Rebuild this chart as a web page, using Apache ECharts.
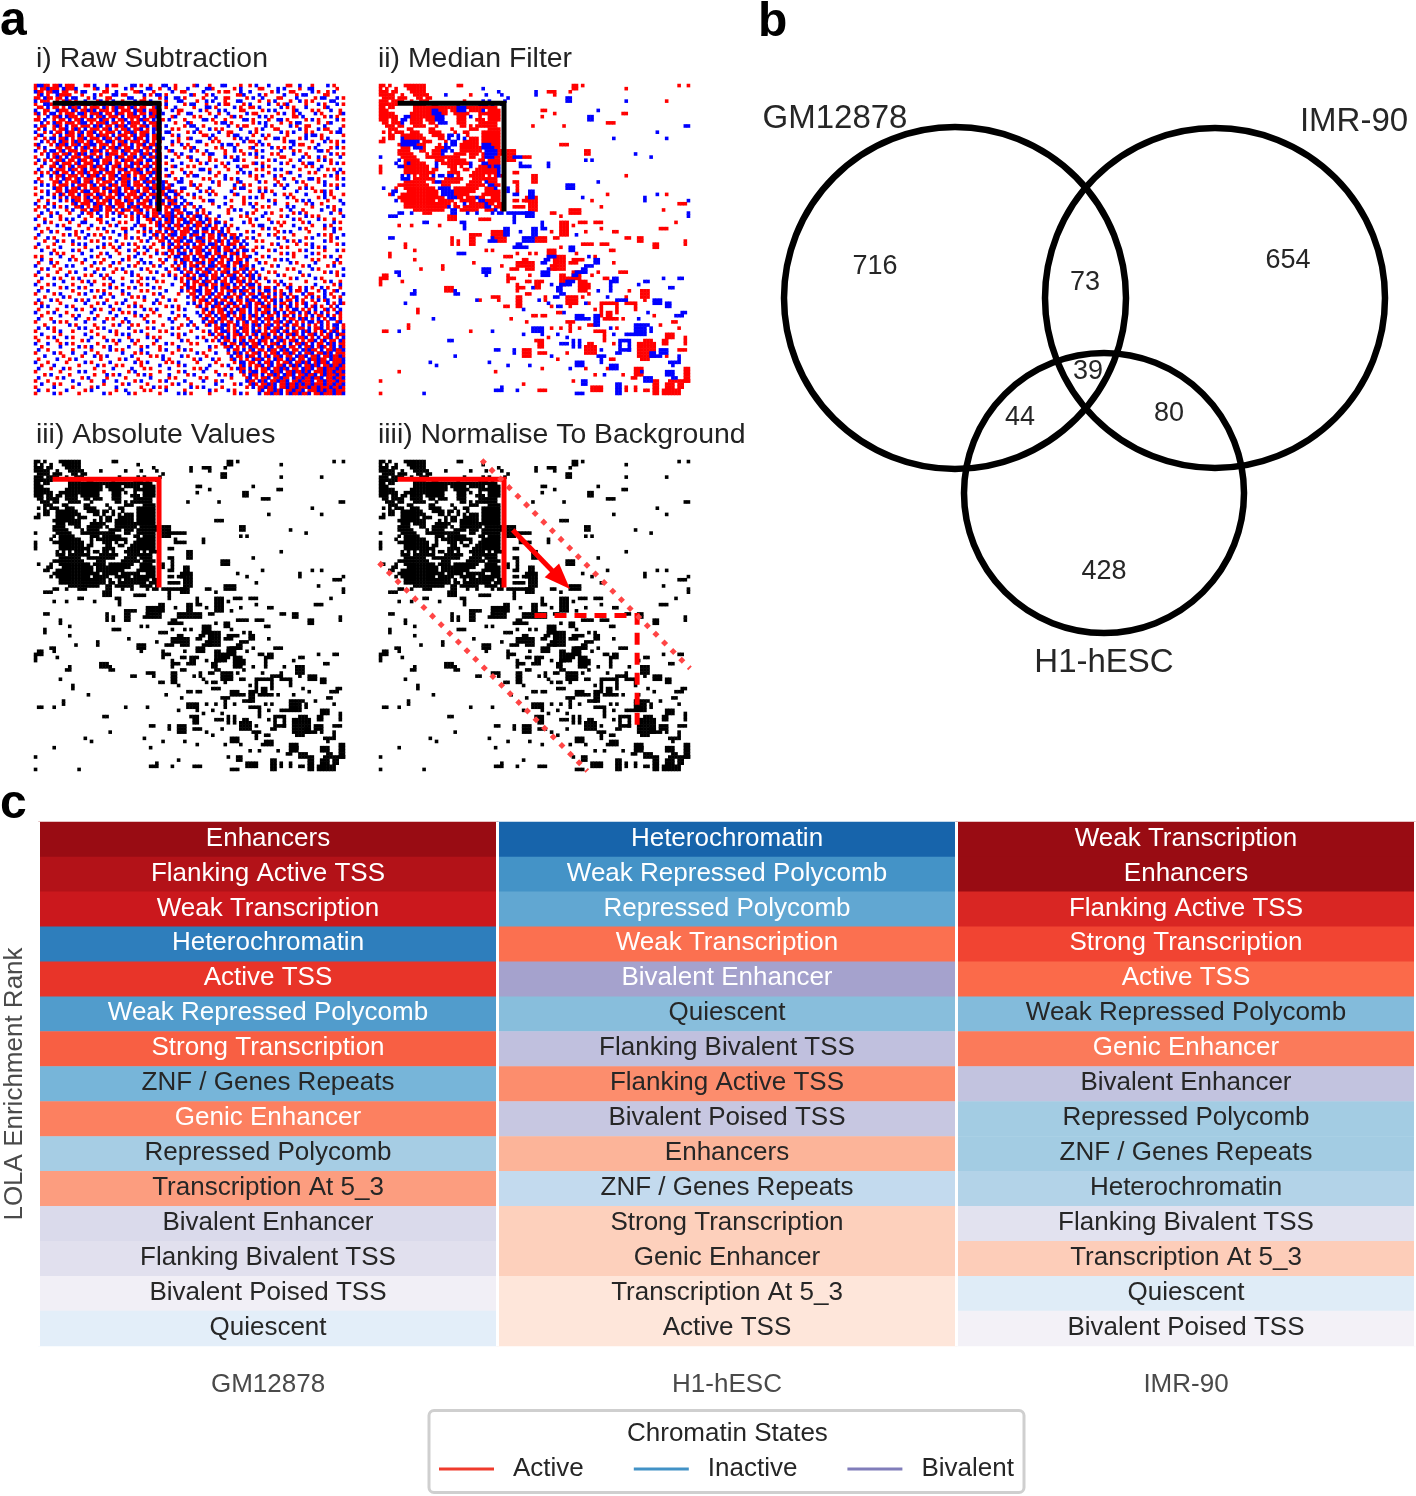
<!DOCTYPE html>
<html>
<head>
<meta charset="utf-8">
<style>html,body{margin:0;padding:0;background:#fff}#c{width:1416px;height:1496px}</style>
<script src="https://cdn.jsdelivr.net/npm/echarts@6/dist/echarts.min.js"></script>
</head>
<body>
<div id="c"></div>
<script>
// Contact-map cells, estimated by eye: r = positive, b = negative, . = empty
const rawRows = [
"rbbrr.rrb.rrr...rr.b...b.rr....bb.r..r...bb..r.....rb...r...bb....r..r.b...b.....rr..b...r....b.r...r",
"r.rrbrrr.brrrb.....rb..r.....b.r....bb..r..b.r...b.....bbr......r.b.....rr....b.b....r..bb.......r..",
"brr.rrbb.rr..r.bb.....rr..b.....rrb...r.....b..rr.....b....r.rr...b..b......r.b...rr.....b.r..r.b...",
".rb.r..brrrr...r...b.r...bb.rr.....b.r.bb.r.......br...r.b.......rrb....b.r.....b...r.bb.....rr.....",
"rr.brr.rr.b.bb...r.b...rr.....bb...r....r.b..bb.r.....r...b..rr.....r.b..b....rr....b.....r.bb...b.r",
"b.rrr..r.rbr.r..b...rb.r.b..r...b.rr.b....r...bb....r..b.b...r...bb.....r..r.b....r..b.r.r.....bb...",
"r..bbr...brrb..rrb.r.rr.rb..brr.bb.rrb..r.b.....r.bb...r...b.rr....r.b.....b..r.rb.....r...b.r...b.r",
".rr.b.rr.r.brrb.r.rrr.br.rbrr.rbr.rr..rb..r..b.....r...bb.r.....b.r..rr.b......b.r.r...b.....rb.....",
"b..rr..brrr.br.rrbrb.rrr.rb.rrr.brrb.rrrb...b.rr.....b.r...b.b....rr.....r.b.b.....rb....r.r...b..r.",
"rb.r.bb.r.rrr.bbr.rrrb.rr.brr.rrb.rr.brr.b....r..bb.....r..r..b.....b.rr......r.b..r.b....b.r.....rb",
".r..b.rrb.brrr.rr.b.rrb.rrr.b.rrrr.b.rrb....rb.....r.r....b....rb.r.....b.b.r......rr.b......r.b.r..",
"rr.b..r.rr.b.rrb.rrr.brr.b.rrb.r.rbrr.b.rr.b....r.....bb.r...r.....bb.r....r..bb.r.....r.b.r.....b.r",
"..b.r.brr.rrr.rbb.r.rrrb.rr.r.brrr.b.rrrb....r...br.......r.bb.r......r.b.b....r..r.bb.....r..rb....",
"b.rr..rbr.b.rr.rrr.brb.rr.brrb.rr.rrb.rrr.b.....r.bb..r.......b..r.rr.....b.r.....b.r..rr....b.....r",
".r.b..r.rrb.rbr.b.rrr.rrb.r.rrb.rrb.r.brb...r.r.....b...b.r.r.....b....r.b...rr......b.r...b.rr...b.",
"b..r.b.rr.brr.rb.rrb.r.rrr.b.rrbr.rrr.b.r.bb.....r.b.r.....b..rr.....b.r.......b.r.b...r.r.....r.bb.",
".rb...r.b.rrr.br.rr.brrr.b.rrr.rb.rrb.rrb...r.b.......rr.b....r.bb....r..b.r.....r.....b.bb.r......r",
"r..r.bb.rrb.r.rrb.rrr.brr.rb.rr.brr.b.rr.b....r..rb.....b.r.....r.b.b.....r..bb.r....r.b....r.b.....",
"..b.r.r.brr.rbrr.rb.rr.bbr.rrb.rrr.rb.r.r...b.r.....bb...r.r.......b.rr.b.......r.bb.....r...b.r.r.b",
"rb...r.brrb.rrb.rrbb.rrr.r.brr.b.rrb.rrb....r..b.r.....r....b.bb.r.....r.b.r.......b.rr....b.....r..",
".r.b...rr.rr.b.rbr.r.rb.rrbr.rrb.r.rrb.rr.b.....r.rb......r.r...b....rb.....b.r.r.b.....r.b....r.b.r",
"b..r.bb.rb.rrr.rr.brrb.r.rr.brr.rrb.r.rb...rb.....b.r..b.....r..b.r....r.b.....b...r.r.....bb.r.....",
"..r.b.rr.rrb.rbrb.rr.r.brrr.rb.rr.brrb.rr....r.b......r.bb...r.....r.b.b....r.r....b...r.......b.r.r",
"r...b.rbr.b.rrr.rrb.rb.rr.brr.rrb.rb.rrbr.b...r..rb.....r....b.r.b.....r.b.....rr.....b.r..b.r....b.",
".b.r.r.rrb.rr.brr.rbb.rrr.r.brrr.rr.bb.rb...b.....r.b...r.r.....bb.r.......r.b....r..b.....r.b.r....",
"r..b..rb.rrr.rb.rrr.b.rrb.rr.r.brrb.r.rrr.r....b.....r.b....r.b.......rb.r.....b.r....r.bb.....r.b.r",
"..r..rr.br.rb.rrr.rbrr.b.rrb.rrb.r.rrb.rb...rb...r.r......b..r...b.rr....b.r.......b...r.r..b.......",
".b...b.rrr.brr.rb.rr.rrb.r.rrb.rrbr.b.rrr.b....r.....bb.r.....r...b....r.r...b.b.....r.....b..r.r.b.",
"r.r.r.rb.rr.b.rrbr.rrb.rrr.b.rr.rrb.rrbrb...r...b.r.....b..r.....r.b.b.....r.....rb.....r.r......b.r",
"..b..b.rrb.rrr.r.brrb.r.rrb.rrb.r.rr.b.rr.rb.....r.bb.....r..b.......r.r.b...b.r.....b.......r.b.r..",
".r...r.r.brr.rb.rrr.rrb.rr.brrr.b.rrb.rrb....r.b......r.r....b.r.b.....r.....r..b..r....bb.r.....r.b",
"b.r...rrb.r.rrb.rrb.r.rrr.b.rrb.rr.brrb.rbr...bb..r......b.r.....rb.....b.r...r.....b.r....r.b......",
"..b.b.r.rrr.b.rrr.rb.rr.brr.rrb.rrr.b.rr.b.rb.....rb.r.....r....b..r.r.......b.r.b.....r.....b.r.r.b",
"r.....brr.b.rrb.r.rrr.brr.rb.rrb.r.rrbrr.brr...bb...r...b.......r.bb....r.r.....b....r.b.r.......b..",
"..r.b..rr.brrr.rbb.rr.r.brrb.r.rrb.rr.b.rr.bbr.r.....b.r.r.....b.....r..b.b.r.......b.....r.rb.r....",
"r...b.r.br.rr.b.rrr.brr.r.rbb.rrr.rb.rrr.rb..br..r.b....b.r.....rb.......r...b..r.r....b.....b.r...r",
"..b...b.r.b.rrr.rb.rrb.rrr.b.rr.rrb.r.brr.rb.r.b...r.r.......b.....r.b.b.r.......b.r.......r.b..r...",
".r..r...b.r.brr.rrb.r.rrb.rr.brr.b.rrb.rrb.rrb..b.....r.bb.....r...r.......b.r......r.b.b.....r...b.",
"b...b.r.....rb.rrr.brrr.b.rrr.rb.rrr.b.brr.brr.b.rb......r...b.....r.b.r.....b...r.....r.b..r......b",
".r.r..b.r.b..rrb.r.rrb.rrb.rr.brrb.rrr.rb.rr.bb.r..r.b.....b...r......b..r.r.....b.b.....r....b.r...",
"r...b.....r.b..rr.brrb.rr.r.brr.rrb.r.rrb.r.brr.b...b.r.......r.b.b....r.......r..b...r.....b...r.b.",
"..b..r.b...r...b.rr.b..r.b.rr..b.rr.b.rrb.rrb.rr.bb.r.r.b.....r.....b.r...b.r......r.b.r.......b..r",
".r...b..r.....b...r..b.r...b.r.r.b.rb.rr.brrbr.b.r.rbb.r...b......r.r....b.....r.b.....b.r.r.......b",
"b..r....r.b.b...r...rr...b.....r.b..rrb.r.brb.rrb.rr.b.br.r....b.....r.b...r.......b.r.....b.r..r...",
"...b.r.....r...bb....r.b...r.r...b...r.rb.rrb.r.bbr.rrb.r.bb.r.....b.r......b.r.r.....r.b.......b.r.",
".r.....b.r....r...b.....r.b.....b.rr...rbr.b.rrb.r.brr.rb.r..b.r......r.bb.....r...b.....r...b.r....",
"b...r.....bb.....r..r.b.....rr.b...b.r..b.rrb.r.rrb.r.bb.rr.b.r..b.......r.b.r.......b.r.....r..b.r.",
"..r..b.r.....r.b.......r.b...b...r.r.b.rr.b.rb.rrr.bb.rr.b.rb.r.....r.b.......r.b.b.....r.......b...",
".b.......r.b.r...b.r.r.....b.r.....b..rb.r.rbb.rr.brr.b.rr.brb.rr.b.....r..b.r.....r.......b.r.r...b",
"r...b.r.......r.b.....b.r....r.b.r...b.r.rb.r.rrb.r.bbr.rr.b.r.brb..r.b.......b.r......r.b.....r.b..",
"...r...b.r..b.....r.r.....b.......r.b...rr.b.rrb.bb.rrb.r.rbr.b.rr.b...r.r.......b.r.b.......b.r....",
".b....r.....r.b.b.....b.r...r.b.r.....r..b.rb.r.rr.b.rr.bbr.r.brr.b.b.......r.b.....r..r.b.......r.b",
"r...r...b.......r...b.r..r.b.....r.b.r...r.b.rrb.b.rrr.b.rrb.rr.b.rr...r.b.....r.r.......b.r.b......",
"..b...r.....b.r...b.......r...b.r...b..r...rr.b.r.b.rrb.r.rb.rrb.r.bb.r....r.b.......r.b.....r...b.r",
".....b.r.r.....b.....r.b...r.....b.r...b.rb.r.rbb.r.rr.bb.rr.b.rrb.r...b.......r.b.r.....b.r.......",
"r.r.....b...r.....b.r...b.....r.b....r.....r.bb.rr.b.rrb.r.brr.b.r.rrb...r.b.......r...b.....r.b..r.",
"..b..r.....b.r..b.....r.....b.r...b.....r.b..r.brr.bb.r.rrb.r.rb.rr.b..r.....r.b.b.......r.r.....b..",
".r...b.r.......r...b.r...b.r.....r.b.b...r...b.rb.r.rrb.rb.rr.b.rrb.r...b.r.......b.r.....b.....r.r.",
"b.....r...b.b.....r.....r.....b.r.....r.b...r.r.b.rrb.r.bbr.rrb.r.brr.b.....r.b.......r.b.....r.b...",
"..r.b...r.......b...r.b...r.b.....b.r.....b..rb.r.b.rr.brr.b.rr.b.rrb.r..b.......r.r.....b.r.......b",
".b.....r...r.b.....b.....r...r.b.....r.b...r...b.rr.b.rrb.r.rrb.rr.b.r.b...r.r.......b.......r.b.r..",
"r...r.....b.....r.r..b.r.......b.r.......r.b.r..rb.r.bbr.rr.b.rrb.r.brb.r.....b.r.....r.b........r.b",
"..b...b.r...r.b.......r.b...r.....r.b.b......b.r.rrb.r.b.rrb.r.bbr.r.rb.b.r.......r.b.....b.r.......",
".r.......b.....r.b.r.....b.....b.r.....r.r.....r.b.rr.brr.b.rr.b.rrb.r.r...b.r.b.......r.....r.b..r.",
"b...r.b.....r.....b...r.r...b.....r.b.......b...rb.r.rrb.rr.brr.b.r.rbb.r.....r.b.r.......b.....r.b.",
"..r.....r.b...b.r.......b.r...r.b.....b.r......r.brr.b.r.rb.rrb.rr.b.rr.b.rr.b...rb..r.b.r..b.r...r.",
".b..b.......r.....b.r.r.....b.....r.r.....b....b.r.rbb.rr.b.r.rrb.brr.b.r.bb.r.r..b.rr.b...r.b..rb..",
"r.....r.b.....r.b.....b.r...r.b.......r.b.....r...rr.b.rrb.rr.b.r.rb.rr.br.r.b.rb.r...b.rr...b.r...b",
"...r.....b.r.......r.b...b.....r.r.b.....r.......b.rb.r.b.rr.brr.rb.r.bb.rrb.r.r.b.rb..r.b.r.b..r.r.",
".b...b.r.....b.r.b.....r.....b.....r...b...b.r.....r.rrb.rb.rr.b.rr.brr.b.r.rb.b.rr.b.r..r.b.rb...b.",
"r.r.....r.......b...r.b...r.b...r.....b.r........b.b.r.rr.brb.rrb.r.rb.rrb.r.b.rr.b.r.rb..r...b.r.br",
"..b.b.....b.r.....r.....b.....r.b.r.......r.b.r.....rb.r.brr.rb.rr.brb.r.rrb.r.b.rb.r..b.rb.r..r.b..",
".r.....r.....b.r...b.r...r.b.......b.r.b......r.b.....rb.r.rrb.r.brr.b.rb.rr.b.r.r.bb.r.r.b..rb.r.b.",
"b...r.b...r.......b.....b...r.r.b.....r.....b.......b.r.rb.rr.brb.rr.b.r.rrb.rb.b.rr.b.rb.r.b.r..br.",
"..r.....b...r.b.....r.....b.....r.b.r...r.....r.b....b.rr.b.rrb.r.rb.rbr.b.rr.b.rr.b.r.r.b.rr.b.r.r.",
".b...r.......b...r.b...r.r...b.....r.......b.r...r....rb.r.brr.b.rrb.r.rb.rrb.r.b.rr.brb.r.b.r.bb.r.",
"r.....b.r.r.....b.....b.....r.b.....b.r.....b.....b...b.rrb.r.rr.b.rb.rr.b.r.rrb.rb.r.r.bb.rb.r..rb.",
"...r.......b.r.....r.....r.b...r.r.......r.....r.b.r...rb.r.bbr.rb.rr.brb.rrb.r.rb.rr.b.r.r.b.r.bb.r",
".b..b.r.......b.b...r.b.......b.....r.b.....b.r.....b.....rrb.r.r.brr.b.r.rb.rrb.r.b.rr.b.rrb.r.rb.r",
"r.....r.b...r.....r.....b.r.....r.b.....r.r.......r...r.b.r.bbr.rb.rr.brb.r.rrb.rb.rr.brb.r.rb.rbr.b",
"..b.....r.......b...r.....r.b.b.....r.......b.r.b.......rb.rr.b.rrb.r.rb.rrb.r.b.rrbr.b.rrb.r.rb.brr",
"r...r.b...b.r.....b...r.......r.....b.r.r.....r.....b.r...r.brb.r.rr.b.r.brr.brr.b.r.rrb.r.b.rrb.r.b",
".r.....r.......r.b.....b.r.b...b.r.....b.......b.r.....b.r.b.rr.b.rb.rr.brr.b.rbr.rrb.r.rrb.rb.rr.br",
"b...b...r.b.r.......r.....r.....r.....r...b.r.....r.r.......rb.rr.brb.rrb.r.rrb.r.b.rrbr.b.rr.brb.rr",
"..r.....b.....b.r.b...r.b.....b...r.b...r.....b.........b.r..rrb.r.r.brr.b.rb.rrb.rr.b.rrb.rbr.rb.br",
".b..r.......r.....r.....b.r.r.....b.....r.b...r.b.r.....r.....b.rr.b.rb.rr.brr.brb.rr.brbrr.b.rrbrrb",
"r.....b.r...b...b...r.......b...r.r.b.......r.......b.r...b...r.brb.r.rrb.r.rrb.rrbr.b.rrb.rrbrb.rrr",
"...b.....r.....r...b.r.b.......b.....r.r.b.....b.r.....r.......b.rr.brr.b.rb.rrb.rr.brrb.rrb.rrbrrbr",
".r.....b...r.b.......r.....r.b...r.......b.r.......r.b...b.r...rb.r.r.brrb.r.brr.brb.rr.brrbrr.brrrb",
"b...r.....r.....b.r.....b.......b.r.b.....r.r.b.....r.....r.....r.bb.rr.b.rrb.r.rrb.rrbrb.rbrrb.rrrb",
"..r...b.......r.....b.r...r.r.....r.....b.....r.b.......b...r.b...rb.r.rrb.rb.rrb.rbrb.rrbrb.rrbrrbr",
".b...r...b.r.......r.....b.....b...r.r.....b.......r.r.b.......r.brr.b.r.rrb.rrbrb.rr.brrb.rrbrrrbrr",
"r.......r.....b.b.....r.......r.b.......r.....r.b.....b...r.......rb.rbb.rr.brrb.rrbrrbrb.rrrbrrbrrb",
"...r.b.....r.......r...b.r.b.....r.b.r.....b.....r.b.......b.r.b...r.brr.b.rrbr.brrb.rrbrrb.rbrrrbrr",
".b.....r.b.....r.b.....r.....r.......b.....r.r.......r.r.......r....rb.r.rrb.rrbrr.brrbrrbrrb.rrbrrb",
"r...r.......b.....r...b...b.....r.b.....r.b.....b.....b...r.b.......brr.brb.rrbrrb.rrbrrrb.rrbrrrbrr",
"..b...r.r.....b.......r.....r.b.....r.......r.b...r.......b.....r.b..rbr.rrbrb.rrbrrbrbrrbrrrbrrbrrb",
"r.....b.....r.....r.b.....b.......r...b.r.r.......b.r.b.....r.......r.b.rrbrrb.rrbrrbrrrbrrbrrrbrrbr",
".b..r.....b.....r.b.......r..b.....r.r....b.....r.......b.r...b.r.......rb.rrbrb.rrbrrb.rrrbrbrrbrrr",
"r.....b.r.....r.......b.r.....b.r.......r.....b.b.r.....r.......r.b.r...b.rrbrrb.rbrrbrrb.rrbrrrbrrb"
];
// Median-filtered map: dense block at top left as rows, everything else as runs of cells [col,row,w,h]
const medianBlockRows = [
"rr.r....rrrrrrr..........rr",
"r.r..r...rrrrrr",
"rrr.rr....rrrrr.......................b",
"rrrrr..r...rrrrr.....b.......r....b....b",
".rrrr.rrr...rr.rr........................b",
"rrr.rrrr..r..rrr...........r.....b.b....b",
"rrrrrr.....rrrr..rr......r......bbb.b..b",
"rr.rr......rrrrrrrrrrrrrrbbbrrrrrrrrrr",
"rrr........rrrrrrbbrrr.rrbbb.rrrrb.rrrr",
"rrrrr.....rrrrrrrbbbrr..rrrrr...rrrrrrr",
"rrrrrr..bbrrrrrrrrbbb....rrr.b..r..rrrr",
"rrr.rr.bb.rrrr.rrrbbb....rrr...rrr.rrrr",
".rr.rrrb..rrrr..rr.bbb...rrr....rrrrrr",
"..rrr.rr...rrrr...r.......rr.r.rrrrrrr",
"...rrr...rr.....rr.....r.....rrr...rrrr",
".r.r.rrr..rrr...rrrr....r..rr....rrrrrr",
"...rr..rrrrrrr...rrrr.bb.b..r....rrrrrr",
".r.rr..brrrrrrr....rr.b..b.b.rrr.rrrrrr",
"rr.....bbbbbb.rrr....r.bb..rrrrr.rrrrrr",
"......rbbbbbrrr....r.b.bb.rrrrrr.bbbrrr",
".......rrr.bbbr...rrrbb...rrrrrrrbbbbrr",
"......rrrr...rr..rrrbb.b..rrrrrrr.bbbbrr",
"......rrrrr....r.rrrb...rrrr.rrr.rbbbbrr",
"b......rrrrr...rrrrrrrrrrr...rr..rbbbrr",
"......b.rrrrr.....rrr.rrrrrr....rr.rrrr",
".....b..rbrrrrr...b.rrrrrrrrrb...bbrrrr",
"r.....bbrrrrrrrr..b...rrr.r..b..rrrbrbb",
"r.......rrrrrrrr.rr....rr..rr..rrrrrrrb",
"r.......rrrrrrrrrr....rrrr....rrrrrrrrb",
".......b.b.r.rrr.b.bb.bb.r...rrrrr.r.rbr",
".......bbb.rrrrrrr...rrrrrr...rrrrrrrr",
"........rrrrrrr..rbbrrrrrr...rrrr.brrr",
"......rrrrrrrrrr....rrr.....rrrrrr.bbrr",
".b...r..rrrrrrrrrr.bbbb.rrrrrrrr..rrrb",
"....bb...rrrrrrrrrr.bbbbrrrrrrr...rrrrr",
"...rb..rrrrrrrrrrrr.bbbbrrrrr....rrrrrr",
"......rrrrrrrrrrrrrrr.bbbrr.rrrbrr..rrr",
".....b.rrrrrrrrrrr.rrrrr..rrrrr.bbrrrrr",
"........rrrrrrrrrrrrrrr.r..b.rrrrrbrr.rr",
"........rrrrrrrrrrrrrrb.rr.rrrrrrrbb.rrr",
"...........rrrrrrrrrr..bb.rrrrrr..rrrb.r",
"..............rrr......bb...b..b....b.bb"
];
const medianRed = [[54,2,3,1],[56,3,1,1],[62,0,2,2],[65,0,1,1],[61,2,1,1],[79,1,1,1],[96,0,1,1],[99,0,1,1],[92,5,1,1],[52,8,2,1],[52,10,1,1],[56,9,1,1],[78,9,2,1],[73,12,3,1],[59,13,1,1],[49,13,1,1],[66,21,2,2],[58,19,3,1],[79,29,1,1],[68,37,1,1],[71,39,1,1],[73,35,1,1],[92,35,1,1],[96,38,3,1],[41,21,3,4],[43,28,2,1],[46,23,3,1],[43,31,2,1],[49,29,2,3],[44,32,1,3],[43,37,2,1],[46,37,2,1],[47,36,4,2],[48,38,3,3],[43,39,4,1],
[55,41,2,1],[58,42,1,1],[61,40,4,2],[64,44,3,1],[69,44,3,1],[58,44,3,5],[62,45,1,1],[36,47,5,3],[38,50,3,1],[29,48,4,1],[29,49,2,3],[32,43,4,1],[22,42,3,2],[6,45,1,1],[10,45,1,1],[19,45,1,1],[23,49,1,3],[25,50,1,2],[8,51,1,2],[11,53,1,1],[34,53,1,1],[3,54,1,2],[11,56,1,1],[13,59,1,1],[20,58,1,2],[30,57,1,1],[0,62,1,3],[1,61,2,2],[7,63,1,1],[21,65,3,2],[36,68,3,1],[38,69,1,1],[32,69,1,1],[40,71,2,1],[44,68,2,4],[49,74,2,1],[52,74,2,1],[12,72,1,2],[9,77,1,2],[1,79,2,1],[29,79,1,1],[6,92,1,1],[37,92,1,1],[0,95,1,1],[0,99,1,1],[46,96,1,1],[51,98,3,1],
[50,49,4,2],[56,49,2,1],[65,51,4,1],[54,53,3,3],[50,54,1,1],[40,55,3,1],[36,53,1,1],[44,57,6,2],[46,56,2,1],[47,59,3,1],[42,59,3,1],[56,55,4,5],[55,58,2,2],[62,56,4,1],[61,57,3,1],[50,63,2,3],[52,63,1,1],[41,61,1,3],[42,62,2,1],[44,64,1,3],[45,65,2,1],[58,61,2,4],[60,62,2,2],[62,60,3,3],[64,63,3,4],[66,64,2,2],[60,68,4,3],[61,71,1,1],[77,60,3,1],[84,66,3,3],[85,69,1,1],[79,68,1,3],[80,70,3,1],[82,71,1,2],[71,70,6,1],[71,71,1,4],[76,71,1,3],[72,75,5,1],[73,73,2,2],[60,76,3,1],[61,77,1,3],[67,77,3,1],[69,79,4,1],[72,80,1,3],[46,85,3,3],[51,86,3,1],[50,82,3,1],[51,83,2,2],[66,84,4,3],[67,83,2,1],[52,91,1,1],[91,40,1,1],[95,44,1,1],[71,51,3,1],[75,47,2,1],[83,49,2,2],[79,49,2,1],[88,51,2,2],[74,53,2,1],[69,55,1,1],[90,46,3,1],[98,50,1,2],
[83,83,6,5],[84,88,3,1],[85,82,3,1],[92,80,3,2],[91,82,2,2],[98,81,1,3],[96,85,3,1],[82,91,3,3],[81,94,2,1],[98,91,2,5],[93,95,7,1],[92,96,3,2],[91,98,6,2],[96,96,2,2],[88,95,2,5],[85,98,2,1],[79,97,1,2],[82,97,1,2],[68,97,4,2],[62,95,1,1],[74,88,2,1],[92,87,1,1],[94,76,2,1],[96,78,1,1],
[48,61,1,1],[47,63,2,1],[53,68,1,2],[55,71,1,1],[57,73,2,1],[47,76,1,1],[55,78,1,1],[58,78,1,1],[65,68,1,1],[67,70,1,1],[69,72,1,1],[64,78,1,1],[78,75,1,1],[80,66,1,1],[75,57,1,1],[70,60,1,1],[72,62,2,1],[68,61,1,1],[67,67,1,1],[55,47,1,1],[66,47,1,1],[71,46,1,1],[58,52,1,1],[63,54,1,1],[48,54,1,1],[44,54,1,1],[39,58,1,1],[47,67,2,1],[42,75,1,1],[54,81,1,1],[75,83,1,1],[57,88,1,1],[60,86,1,1],[76,78,1,1],[88,74,1,1],[90,77,1,1],[73,91,1,1],[78,93,1,1],[69,93,1,1],[66,91,1,1]];
const medianBlue = [[50,2,1,2],[60,4,2,2],[79,5,1,1],[33,1,1,1],[67,10,2,2],[70,8,1,1],[98,13,2,1],[89,15,1,1],[92,17,1,1],[75,17,1,1],[82,22,1,1],[87,23,1,1],[66,24,1,1],[68,24,1,1],[70,31,1,1],[60,32,3,2],[65,36,1,1],[85,36,1,2],[89,35,1,1],[99,37,1,1],[99,41,1,2],[43,23,3,1],[45,25,1,2],[46,26,3,1],[54,25,1,2],[41,33,1,2],[48,34,2,3],[43,35,2,1],[41,41,3,1],[43,42,1,3],[44,41,5,1],[47,41,3,2],[52,44,1,3],[53,46,1,1],[49,46,2,3],[40,46,2,3],[35,50,3,1],[36,49,1,1],[26,44,2,1],[27,45,1,2],[14,44,2,1],[3,42,3,1],[6,41,2,1],[10,41,1,1],[3,49,2,1],[25,54,3,1],[33,59,3,2],[34,61,1,1],[5,60,2,1],[6,61,1,1],[24,67,2,1],[24,66,1,1],[10,67,2,1],[11,66,1,1],[8,70,1,1],[17,75,1,1],[31,69,1,1],[46,72,1,1],[6,79,1,1],[36,79,1,1],[22,82,2,1],[24,87,1,1],[37,85,2,1],[16,89,1,1],[18,90,1,1],[35,89,1,1],[41,90,1,1],[14,99,1,1],[37,98,2,1],[39,97,1,2],[44,98,1,1],
[43,52,5,1],[46,49,4,2],[44,51,2,1],[61,52,2,2],[54,55,3,1],[53,56,2,1],[52,57,2,1],[69,56,2,2],[66,58,3,1],[65,59,2,2],[63,60,3,1],[62,61,2,1],[52,60,3,2],[54,59,1,1],[58,64,4,1],[57,65,2,2],[60,63,2,1],[62,63,1,1],[58,67,2,1],[56,68,2,1],[74,63,3,1],[75,62,2,1],[74,64,1,3],[76,69,4,1],[88,69,3,2],[63,74,3,2],[66,75,2,1],[69,74,2,4],[49,78,4,2],[58,83,3,1],[62,82,1,3],[64,82,1,3],[43,85,1,2],[70,87,3,1],[71,88,1,2],[63,89,3,2],[48,90,1,1],[91,62,1,1],[96,62,2,1],[83,64,1,1],[85,63,2,1],[93,65,2,1],[92,70,2,2],[95,74,3,1],[97,73,2,1],
[77,82,4,1],[77,83,1,3],[80,83,1,3],[78,85,3,1],[76,86,2,1],[82,77,5,1],[82,78,4,3],[79,80,3,1],[87,78,1,2],[87,86,2,2],[90,85,3,2],[89,87,2,1],[93,89,3,1],[85,94,3,2],[84,92,1,1],[92,92,3,2],[94,94,2,1],[96,87,1,3],[76,96,2,4],[65,95,2,2],[63,99,3,1],[74,90,3,2],[71,85,1,1],[94,90,1,1],
[49,65,1,1],[55,64,1,1],[54,70,1,1],[57,71,2,1],[59,73,1,1],[51,69,1,1],[46,80,1,1],[52,80,1,1],[60,81,1,1],[74,78,1,1],[73,68,1,1],[70,66,1,1],[66,70,1,1],[45,47,1,1],[63,48,1,1],[67,55,1,1],[57,80,1,1],[55,87,1,1],[61,91,1,1],[75,80,1,1],[83,75,1,1],[86,73,1,1],[72,93,1,1]];

// Panel c: chromatin states per cell type, in rank order, with estimated enrichment on a 0-1 scale
const cellTypes = ["GM12878","H1-hESC","IMR-90"];
const gmStates = ["Enhancers","Flanking Active TSS","Weak Transcription","Heterochromatin","Active TSS","Weak Repressed Polycomb","Strong Transcription","ZNF / Genes Repeats","Genic Enhancer","Repressed Polycomb","Transcription At 5_3","Bivalent Enhancer","Flanking Bivalent TSS","Bivalent Poised TSS","Quiescent"];
const h1States = ["Heterochromatin","Weak Repressed Polycomb","Repressed Polycomb","Weak Transcription","Bivalent Enhancer","Quiescent","Flanking Bivalent TSS","Flanking Active TSS","Bivalent Poised TSS","Enhancers","ZNF / Genes Repeats","Strong Transcription","Genic Enhancer","Transcription At 5_3","Active TSS"];
const imrStates = ["Weak Transcription","Enhancers","Flanking Active TSS","Strong Transcription","Active TSS","Weak Repressed Polycomb","Genic Enhancer","Bivalent Enhancer","Repressed Polycomb","ZNF / Genes Repeats","Heterochromatin","Flanking Bivalent TSS","Transcription At 5_3","Quiescent","Bivalent Poised TSS"];
const gmScores = [0.90,0.83,0.75,0.70,0.65,0.58,0.53,0.47,0.43,0.35,0.34,0.25,0.21,0.11,0.10];
const h1Scores = [0.80,0.62,0.53,0.48,0.47,0.43,0.36,0.39,0.33,0.27,0.26,0.18,0.18,0.09,0.09];
const imrScores = [0.90,0.90,0.70,0.60,0.50,0.44,0.45,0.35,0.36,0.36,0.31,0.20,0.19,0.12,0.09];
const activeStates = ["Enhancers","Flanking Active TSS","Weak Transcription","Active TSS","Strong Transcription","Genic Enhancer","Transcription At 5_3"];
const inactiveStates = ["Heterochromatin","Weak Repressed Polycomb","ZNF / Genes Repeats","Repressed Polycomb","Quiescent"];
const bivalentStates = ["Bivalent Enhancer","Flanking Bivalent TSS","Bivalent Poised TSS"];
const legendNames = ["Active","Inactive","Bivalent"];

// Panel b: Venn set circles [cx, cy, r] on a plain plotting scale, with counts and names
const vennSets = [[195,208,171],[455,208,170],[344,403,140]];
const vennCounts = [[115,177,"716"],[325,193,"73"],[528,171,"654"],[328,282,"39"],[260,328,"44"],[409,324,"80"],[344,482,"428"]];
const vennNames = [[75,29,"GM12878"],[594,32,"IMR-90"],[344,573,"H1-hESC"]];

// Panel a overlays, in cell units of the 100 x 100 map
const tadCorner = [[6,6.2],[40.2,6.2],[40.2,41]];
const nextDomain = [[50,50],[83,50],[83,86]];
const shiftArrow = [[43,22.5],[58.5,38.5]];
const upperBound = [[33,0],[100,67]];
const lowerBound = [[0,33],[67,100]];

const FONT = '"Liberation Sans", Arial, sans-serif';
const INK = '#262626';
const idx = Array.from({length:100},(_,i)=>String(i));
function cellsFromRows(rows,ch){const o=[];rows.slice(0,100).forEach((s,y)=>{for(let x=0;x<Math.min(s.length,100);x++)if(ch.includes(s[x]))o.push([x,y,1]);});return o;}
function cellsFromRuns(runs){const o=[];runs.forEach(([c,r,w,h])=>{for(let y=r;y<r+h&&y<100;y++)for(let x=c;x<c+w&&x<100;x++)o.push([x,y,1]);});return o;}
const medRed=cellsFromRows(medianBlockRows,'r').concat(cellsFromRuns(medianRed));
const medBlue=cellsFromRows(medianBlockRows,'b').concat(cellsFromRuns(medianBlue));
const panels = [
  {red:cellsFromRows(rawRows,'r'), blue:cellsFromRows(rawRows,'b'), line:'#000', title:'i) Raw Subtraction', l:34, t:84, tx:36},
  {red:medRed, blue:medBlue, line:'#000', title:'ii) Median Filter', l:379, t:84, tx:378},
  {black:medRed.concat(medBlue), line:'#f00', title:'iii) Absolute Values', l:34, t:460, tx:36},
  {black:medRed.concat(medBlue), line:'#f00', title:'iiii) Normalise To Background', l:379, t:460, tx:378, extras:true}
];

const ramps = {
  active:['#fff5f0','#fee0d2','#fcbba1','#fc9272','#fb6a4a','#ef3b2c','#cb181d','#a50f15','#67000d'],
  inactive:['#f7fbff','#deebf7','#c6dbef','#9ecae1','#6baed6','#4292c6','#2171b5','#08519c','#08306b'],
  bivalent:['#fcfbfd','#efedf5','#dadaeb','#bcbddc','#9e9ac8','#807dba','#6a51a3','#54278f','#3f007d']
};
function hex(c){return [1,3,5].map(i=>parseInt(c.substr(i,2),16));}
function ramp(name,t){const r=ramps[name],p=t*8,i=Math.min(7,Math.floor(p)),f=p-i,a=hex(r[i]),b=hex(r[i+1]);return a.map((v,k)=>v+(b[k]-v)*f);}
function lum(c){const q=c.map(v=>{v/=255;return v<=0.03928?v/12.92:Math.pow((v+0.055)/1.055,2.4);});return 0.2126*q[0]+0.7152*q[1]+0.0722*q[2];}
function groupOf(s){return activeStates.includes(s)?'active':inactiveStates.includes(s)?'inactive':'bivalent';}

const grid=[],xAxis=[],yAxis=[],series=[],graphic=[];
panels.forEach((p,k)=>{
  grid.push({left:p.l,top:p.t,width:311,height:311,outerBoundsMode:'none'});
  xAxis.push({type:'category',gridIndex:k,data:idx,show:false},{type:'value',gridIndex:k,min:0,max:100,show:false});
  yAxis.push({type:'category',gridIndex:k,data:idx,inverse:true,show:false},{type:'value',gridIndex:k,min:0,max:100,inverse:true,show:false});
  const cat=2*k,val=2*k+1;
  const heat=(d,c)=>({type:'heatmap',xAxisIndex:cat,yAxisIndex:cat,data:d,itemStyle:{color:c},silent:true,z:2,progressive:0,animation:false});
  if(p.black) series.push(heat(p.black,'#000'));
  else { series.push(heat(p.red,'#ff0000')); series.push(heat(p.blue,'#0000ff')); }
  const ln=(d,c,w,t,extra)=>Object.assign({type:'line',xAxisIndex:val,yAxisIndex:val,data:d,symbol:'none',silent:true,z:5,animation:false,lineStyle:{color:c,width:w,type:t,cap:'butt',join:'miter'}},extra||{});
  series.push(ln(tadCorner,p.line,5,'solid'));
  if(p.extras){
    series.push(ln(nextDomain,'#f00',5,[12,8]));
    series.push(ln(upperBound,'#ff4545',5,[5,7.2]));
    series.push(ln(lowerBound,'#ff4545',5,[5,7.2]));
    series.push(ln([],'#f00',5,'solid',{markLine:{silent:true,animation:false,symbol:['none','triangle'],symbolSize:[20,26],label:{show:false},lineStyle:{color:'#f00',width:5,type:'solid'},data:[[{coord:shiftArrow[0]},{coord:shiftArrow[1]}]]}}));
  }
  graphic.push({type:'text',left:p.tx,top:p.t-39,style:{text:p.title,font:'28.4px '+FONT,fill:'#222'}});
});

// Panel c
grid.push({left:38.5,top:822,width:1377,height:524,outerBoundsMode:'none'});
xAxis.push({type:'category',gridIndex:4,data:cellTypes,z:10,axisLine:{show:false},axisTick:{show:false},axisLabel:{fontFamily:FONT,fontSize:26,color:'#4a4a4a',margin:26},splitLine:{show:true,interval:0,lineStyle:{color:'#fff',width:3}}});
yAxis.push({type:'category',gridIndex:4,data:gmStates.map((_,i)=>String(i+1)),inverse:true,axisLine:{show:false},axisTick:{show:false},axisLabel:{show:false},splitLine:{show:false},name:'LOLA Enrichment Rank',nameLocation:'middle',nameGap:11,nameTextStyle:{fontFamily:FONT,fontSize:26,color:'#4a4a4a'}});
const heatData=[];
[[gmStates,gmScores],[h1States,h1Scores],[imrStates,imrScores]].forEach(([names,scores],c)=>{
  names.forEach((n,r)=>{
    const col=ramp(groupOf(n),scores[r]);
    heatData.push({name:n,value:[c,r,scores[r]],itemStyle:{color:'rgb('+col.map(Math.round).join(',')+')'},label:{color:lum(col)>0.40?INK:'#fff'}});
  });
});
series.push({type:'heatmap',xAxisIndex:8,yAxisIndex:8,data:heatData,silent:true,z:2,animation:false,label:{show:true,formatter:q=>q.name,fontFamily:FONT,fontSize:26,offset:[0,-1]}});
const legendColors=['#ef3b2c','#4292c6','#807dba'];
legendNames.forEach((n,i)=>series.push({type:'line',name:n,xAxisIndex:8,yAxisIndex:8,data:[],symbol:'none',itemStyle:{color:legendColors[i]},lineStyle:{color:legendColors[i],width:3}}));

// Panel b
grid.push({left:760,top:90,width:656,height:590,outerBoundsMode:'none'});
xAxis.push({type:'value',gridIndex:5,min:0,max:656,show:false});
yAxis.push({type:'value',gridIndex:5,min:0,max:590,inverse:true,show:false});
series.push({type:'custom',xAxisIndex:9,yAxisIndex:9,data:vennSets,silent:true,clip:false,z:3,animation:false,encode:{x:0,y:1},
  renderItem:(params,api)=>{const c=api.coord([api.value(0),api.value(1)]),r=api.size([api.value(2),0])[0];
    return {type:'circle',shape:{cx:c[0],cy:c[1],r:r},style:{fill:'none',stroke:'#000',lineWidth:6.5}};}});
const textSeries=(d,size)=>({type:'scatter',xAxisIndex:9,yAxisIndex:9,data:d,symbolSize:0,silent:true,z:4,animation:false,clip:false,itemStyle:{opacity:1},
  label:{show:true,position:'inside',formatter:q=>q.value[2],fontFamily:FONT,fontSize:size,color:INK,opacity:1}});
series.push(textSeries(vennCounts,27));
series.push(textSeries(vennNames,33));

// Panel letters and legend frame
[['a',0,-2],['b',758,-1],['c',0,781]].forEach(([t,x,y])=>graphic.push({type:'text',left:x,top:y,style:{text:t,font:'bold 48px '+FONT,fill:'#000'}}));
graphic.push({type:'rect',left:426.5,top:1408,shape:{width:595,height:82,r:5},style:{fill:'none',stroke:'#cfcfcf',lineWidth:3}});
graphic.push({type:'text',left:627,top:1421,style:{text:'Chromatin States',font:'26px '+FONT,fill:INK}});

const chart=echarts.init(document.getElementById('c'),null,{renderer:'canvas'});
chart.setOption({animation:false,backgroundColor:'#fff',grid,xAxis,yAxis,series,graphic,
  legend:{data:legendNames,icon:'rect',left:439,top:1456,padding:0,itemWidth:55,itemHeight:3,itemGap:50,selectedMode:false,textStyle:{fontFamily:FONT,fontSize:26,color:INK,padding:[0,0,0,14]}}});
</script>
</body>
</html>
